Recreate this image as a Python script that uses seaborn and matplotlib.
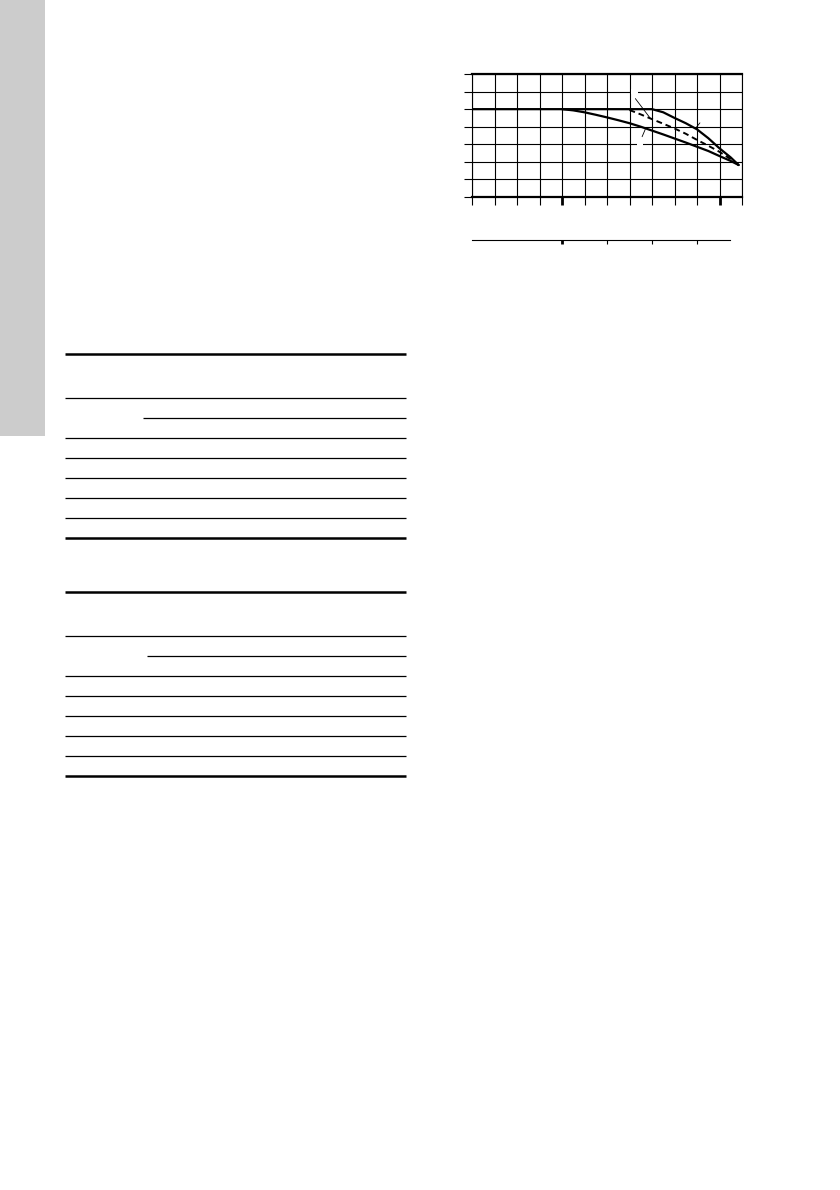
import matplotlib.pyplot as plt
import matplotlib.patches as mpatches
import pandas as pd
import seaborn as sns

sns.set_style("white")

# curve data (grid units: x 0..12, y 0..7)
upper_x = [0, 2, 4, 6, 8, 8.5, 9, 9.5, 10, 10.5, 11, 11.5, 11.85]
upper_y = [5, 5, 5, 5, 5, 4.82, 4.5, 4.2, 3.85, 3.35, 2.77, 2.25, 1.82]
lower_x = [4, 4.5, 5, 5.5, 6, 6.5, 7, 7.5, 8, 8.5, 9, 9.5, 10, 10.5, 11, 11.5, 11.85]
lower_y = [5, 4.93, 4.82, 4.68, 4.53, 4.37, 4.2, 4.0, 3.78, 3.56, 3.33, 3.1, 2.86, 2.62, 2.33, 2.05, 1.82]
dash_x = [7, 7.5, 8, 8.5, 9, 9.5, 10, 10.5, 11, 11.5, 11.85]
dash_y = [4.95, 4.7, 4.43, 4.17, 3.9, 3.6, 3.25, 2.92, 2.57, 2.15, 1.82]

x_ticks = list(range(0, 13))
y_ticks = list(range(0, 8))
scale2_ticks = [4, 6, 8, 10]

# table rules (pixel rows on the page)
table1_rows = [354, 398, 418, 438, 458, 478, 498, 518, 538]
table2_rows = [592, 636, 656, 676, 696, 716, 736, 756, 776]

W, H = 840, 1190
fig = plt.figure(figsize=(W / 100, H / 100), dpi=100)

# page layer
page = fig.add_axes([0, 0, 1, 1])
page.set_xlim(0, W)
page.set_ylim(H, 0)
page.axis("off")
page.add_patch(mpatches.Rectangle((0, 0), 45, 436, color="#cccccc", lw=0))


def draw_table(rows, partial_left):
    for i, y in enumerate(rows):
        thick = i == 0 or i == len(rows) - 1
        x0 = partial_left if i == 2 else 65
        page.hlines(y, x0, 406, color="black", lw=1.8 if thick else 0.9)


draw_table(table1_rows, 143)
draw_table(table2_rows, 147)

# main chart
L, R, T, B = 472, 742, 74, 197
ax = fig.add_axes([L / W, 1 - B / H, (R - L) / W, (B - T) / H])
df_up = pd.DataFrame({"x": upper_x, "y": upper_y})
df_lo = pd.DataFrame({"x": lower_x, "y": lower_y})
df_da = pd.DataFrame({"x": dash_x, "y": dash_y})
sns.lineplot(data=df_up, x="x", y="y", ax=ax, color="black", lw=1.6, sort=False, zorder=5)
sns.lineplot(data=df_lo, x="x", y="y", ax=ax, color="black", lw=1.6, sort=False, zorder=5)
sns.lineplot(data=df_da, x="x", y="y", ax=ax, color="black", lw=1.4, sort=False,
             linestyle=(0, (3, 2)), zorder=5)

ax.set_xlim(0, 12)
ax.set_ylim(0, 7)
ax.set_xticks(x_ticks)
ax.set_yticks(y_ticks)
ax.set_xticklabels([])
ax.set_yticklabels([])
ax.set_xlabel("")
ax.set_ylabel("")
ax.grid(True, color="black", lw=0.8)
ax.set_axisbelow(True)
ax.tick_params(axis="both", direction="out", length=6, width=0.8, color="black",
               bottom=True, left=True, top=False, right=False)
for side in ["left", "right"]:
    ax.spines[side].set_linewidth(0.8)
for side in ["top", "bottom"]:
    ax.spines[side].set_linewidth(1.6)
for s in ax.spines.values():
    s.set_color("black")
xt = ax.xaxis.get_major_ticks()
for i in (4, 11):
    xt[i].tick1line.set_markeredgewidth(2.0)

# leader lines and masked label spots
ax.plot([7.26, 7.93], [5.6, 4.47], color="black", lw=0.6, zorder=6)
ax.plot([7.7, 7.56], [3.85, 3.43], color="black", lw=0.6, zorder=6)
ax.plot([9.93, 10.13], [3.9, 4.22], color="black", lw=0.6, zorder=6)
ax.add_patch(mpatches.Rectangle((7.08, 5.85), 0.28, 0.3, color="white", lw=0, zorder=4))
ax.add_patch(mpatches.Rectangle((7.35, 2.85), 0.25, 0.3, color="white", lw=0, zorder=4))

# second scale below the chart
ax2 = fig.add_axes([L / W, 1 - 240 / H, (R - L) / W, 0.0001])
ax2.set_xlim(0, 12)
ax2.set_ylim(0, 1)
sns.despine(ax=ax2, left=True, top=True, right=True)
ax2.spines["bottom"].set_bounds(0, 11.45)
ax2.spines["bottom"].set_linewidth(0.8)
ax2.spines["bottom"].set_color("black")
ax2.set_xticks(scale2_ticks)
ax2.set_xticklabels([])
ax2.set_yticks([])
ax2.tick_params(axis="x", direction="out", length=3, width=0.8, color="black", bottom=True)
ax2.xaxis.get_major_ticks()[0].tick1line.set_markeredgewidth(2.0)

fig.savefig("out.png", dpi=100)
